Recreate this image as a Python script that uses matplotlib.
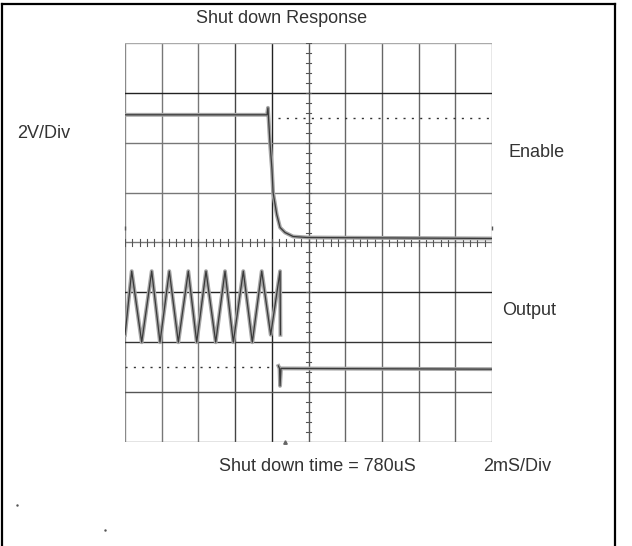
"""
Shut down response - oscilloscope style capture (Enable / Output)
"""

import matplotlib.pyplot as plt
from matplotlib.lines import Line2D
import numpy as np

plt.rcParams['font.family'] = ['Liberation Sans', 'DejaVu Sans']

# time in ms (2 ms/div), voltage in V (2 V/div)
enable_t = [0.0, 7.74, 7.79, 7.90, 8.01, 8.07, 8.27, 8.45, 8.72, 9.16, 9.92, 20.0]
enable_v = [5.12, 5.12, 5.40, 4.00, 2.92, 2.00, 1.12, 0.60, 0.40, 0.24, 0.20, 0.16]

output_t = [0.0, 0.365, 0.91, 1.455, 1.907, 2.414, 2.905, 3.45, 3.907,
            4.414, 4.943, 5.45, 5.902, 6.447, 6.937, 7.45, 7.94, 8.45, 8.47]
output_v = [-3.70, -1.15, -4.00, -1.15, -4.00, -1.15, -4.00, -1.15, -4.00,
            -1.15, -4.00, -1.15, -4.00, -1.15, -4.00, -1.15, -3.70, -1.15, -3.70]

output_low_t = [8.36, 8.42, 8.45, 8.50, 20.0]
output_low_v = [-4.95, -5.05, -5.75, -5.05, -5.08]

enable_ref_t = [8.34, 20.0]
enable_ref_v = [4.98, 4.98]
output_ref_t = [0.0, 7.9]
output_ref_v = [-5.0, -5.0]

fig = plt.figure(figsize=(6.32, 5.46), dpi=100, facecolor='white')
ax = fig.add_axes([0.1978, 0.1905, 0.5807, 0.7308])
ax.set_xlim(0, 20)
ax.set_ylim(-8, 8)
ax.axis('off')

# graticule
vcolors = ['#8a8a8a', '#777777', '#777777', '#444444', '#222222', '#555555',
           '#666666', '#666666', '#666666', '#666666', '#8a8a8a']
for i, c in enumerate(vcolors):
    ax.axvline(i * 2, color=c, lw=1.0, zorder=1)
hcolors = ['#777777', '#555555', '#333333', '#222222', '#777777',
           '#777777', '#777777', '#222222', '#aaaaaa']
for i, c in enumerate(hcolors):
    ax.axhline(-8 + i * 2, color=c, lw=1.0, zorder=1)

# minor ticks on the centre lines
for t in np.arange(0, 20.01, 0.4):
    ax.plot([t, t], [-0.14, 0.14], color='#555555', lw=0.8, zorder=1)
for v in np.arange(-8, 8.01, 0.4):
    ax.plot([9.84, 10.16], [v, v], color='#555555', lw=0.8, zorder=1)

# reference levels
ax.plot(enable_ref_t, enable_ref_v, color='#333333', lw=1.0,
        linestyle=(0, (1.5, 4.5)), zorder=2)
ax.plot(output_ref_t, output_ref_v, color='#333333', lw=1.0,
        linestyle=(0, (1.5, 4.5)), zorder=2)

# traces (gray halo + dark core to look like a scanned scope trace)
for tt, vv in [(enable_t, enable_v), (output_t, output_v), (output_low_t, output_low_v)]:
    ax.plot(tt, vv, color='#a5a5a5', lw=2.8, zorder=3, solid_joinstyle='round')
    ax.plot(tt, vv, color='#3a3a3a', lw=0.9, zorder=4, solid_joinstyle='round')

# channel / trigger markers
ax.plot([0.0, 20.0], [0.6, 0.6], linestyle='none', marker='|', ms=3,
        color='#555555', clip_on=False)
ax.plot([8.72], [-8.0], linestyle='none', marker='^', ms=2.5,
        color='#666666', clip_on=False)

# outer frame (bottom edge is cut off)
fig.add_artist(Line2D([0.0024, 0.0024], [0.0, 0.9927], color='black', lw=1.6))
fig.add_artist(Line2D([0.973, 0.973], [0.0, 0.9927], color='black', lw=1.6))
fig.add_artist(Line2D([0.0024, 0.973], [0.9927, 0.9927], color='black', lw=1.6))

# stray dots
fig.add_artist(Line2D([0.027], [0.075], marker='.', ms=1.5, color='#555555'))
fig.add_artist(Line2D([0.166], [0.029], marker='.', ms=1.5, color='#555555'))

tcol = '#333333'
fs = 13
fig.text(0.446, 0.967, 'Shut down Response', ha='center', va='center', fontsize=fs, color=tcol)
fig.text(0.027, 0.756, '2V/Div', ha='left', va='center', fontsize=fs, color=tcol)
fig.text(0.805, 0.720, 'Enable', ha='left', va='center', fontsize=fs, color=tcol)
fig.text(0.794, 0.432, 'Output', ha='left', va='center', fontsize=fs, color=tcol)
fig.text(0.3465, 0.1447, 'Shut down time = 780uS', ha='left', va='center', fontsize=fs, color=tcol)
fig.text(0.764, 0.1447, '2mS/Div', ha='left', va='center', fontsize=fs, color=tcol)

fig.savefig('out.png', dpi=100, facecolor='white')
plt.close(fig)
